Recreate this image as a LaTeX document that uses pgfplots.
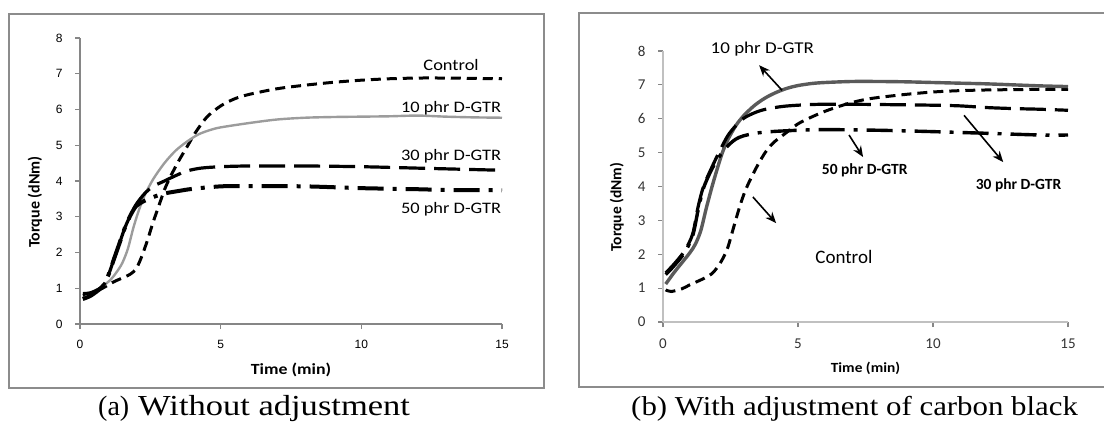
\documentclass[border=0pt]{standalone}
\usepackage{pgfplots}
\pgfplotsset{compat=1.18}
\usetikzlibrary{arrows.meta}
\usepackage{fontspec}
\setmainfont{Carlito}
\newfontfamily\tickfont{Liberation Sans}
\newfontfamily\capfont{Liberation Serif}

\definecolor{framegray}{HTML}{8C8C8C}
\definecolor{axdark}{HTML}{868686}
\definecolor{axlight}{HTML}{C0C0C0}
\definecolor{gtra}{HTML}{9C9C9C}
\definecolor{gtrb}{HTML}{5A5A5A}

\tikzset{ann/.style={anchor=base, xscale=1.15, transform shape}}
\pgfplotsset{
  excel/.style={
    scale only axis,
    xmin=0, xmax=15, ymin=0, ymax=8,
    xtick={0,5,10,15}, ytick={0,1,...,8},
    axis lines*=left,
    tick align=outside,
    major tick length=5pt,
    clip=false,
    /pgf/number format/assume math mode=true,
  },
  ctrl/.style={black, line width=3pt, dash pattern=on 10pt off 6pt, smooth},
  p30/.style={black, line width=3.2pt, dash pattern=on 26pt off 9pt, smooth},
  p50/.style={black, line width=4pt, dash pattern=on 26pt off 9pt on 4pt off 9pt, smooth},
}

\begin{document}
\begin{tikzpicture}
\useasboundingbox (0,0) rectangle (1104pt,424pt);
\clip (0,0) rectangle (1104pt,424pt);

% frames
\draw[framegray, line width=1.5pt] (9pt,36pt) rectangle (544pt,410pt);
\draw[framegray, line width=1.5pt] (579pt,37pt) rectangle (1112pt,411pt);

% captions
\node[anchor=base west, inner sep=0pt] at (98pt,9pt)
  {\capfont\fontsize{28}{30}\selectfont (a)};
\node[anchor=base west, xscale=1.19, transform shape, inner sep=0pt] at (138pt,9pt)
  {\capfont\fontsize{29}{31}\selectfont Without adjustment};
\node[anchor=base west, xscale=1.13, transform shape, inner sep=0pt] at (631pt,9pt)
  {\capfont\fontsize{27.3}{30}\selectfont (b) With adjustment of carbon black};

% ---------------- (a) without adjustment
\begin{axis}[excel,
  at={(80pt,100pt)}, anchor=south west,
  width=422pt, height=286pt,
  axis line style={axdark, line width=1.5pt},
  tick style={axdark, line width=1.2pt},
  tick label style={font=\tickfont\fontsize{12}{14}\selectfont},
  xticklabel style={yshift=-8pt},
  yticklabel style={xshift=-9pt},
  xlabel={\bfseries Time (min)},
  ylabel={\bfseries Torque (dNm)},
  every axis x label/.style={at={(axis description cs:0.5,-0.161)}, anchor=center,
    font=\fontsize{15.5}{17}\selectfont, xscale=1.15, transform shape},
  every axis y label/.style={at={(axis description cs:-0.107,0.427)}, rotate=90, anchor=center,
    font=\fontsize{16}{18}\selectfont},
]
% Control
\addplot[ctrl] coordinates {
(0.1,0.80) (0.4,0.85) (0.8,1.00) (1.2,1.18) (1.6,1.32) (1.8,1.40) (2.0,1.55)
(2.2,1.90) (2.4,2.35) (2.6,2.85) (2.8,3.30) (3.0,3.75) (3.2,4.10) (3.5,4.55)
(3.8,4.95) (4.1,5.35) (4.5,5.78) (5.0,6.10) (5.5,6.30) (6.0,6.42) (7.0,6.58)
(8.0,6.68) (9.0,6.76) (10,6.82) (11,6.86) (12,6.88) (13,6.88) (14,6.87) (15,6.86)
};
% 10 phr D-GTR
\addplot[gtra, line width=2.4pt, smooth] coordinates {
(0.1,0.72) (0.4,0.85) (0.8,1.05) (1.1,1.25) (1.3,1.45) (1.5,1.70) (1.7,2.10)
(1.9,2.70) (2.1,3.20) (2.3,3.60) (2.6,4.05) (3.0,4.50) (3.4,4.85) (3.8,5.10)
(4.2,5.30) (4.6,5.42) (5.0,5.50) (6.0,5.62) (7.0,5.72) (8.0,5.77) (9.0,5.79)
(10,5.80) (11,5.81) (12,5.83) (13,5.80) (14,5.78) (15,5.77)
};
% 30 phr D-GTR
\addplot[p30] coordinates {
(0.1,0.85) (0.4,0.88) (0.8,1.05) (1.0,1.35) (1.2,1.80) (1.4,2.25) (1.6,2.70)
(1.8,3.05) (2.0,3.35) (2.3,3.65) (2.6,3.85) (3.0,4.00) (3.4,4.15) (3.8,4.28)
(4.3,4.36) (5.0,4.40) (6.0,4.42) (8.0,4.42) (10,4.40) (12,4.36) (13,4.34) (15,4.30)
};
% 50 phr D-GTR
\addplot[p50] coordinates {
(0.1,0.70) (0.4,0.80) (0.8,1.05) (1.0,1.35) (1.2,1.80) (1.4,2.25) (1.6,2.70)
(1.8,3.05) (2.0,3.30) (2.3,3.45) (2.6,3.55) (3.0,3.65) (3.5,3.72) (4.0,3.78)
(5.0,3.85) (6.0,3.86) (8.0,3.85) (10,3.80) (12,3.77) (13,3.75) (15,3.74)
};
\node[ann, font=\fontsize{16}{18}\selectfont] at (axis cs:13.19,7.10) {Control};
\node[ann, font=\fontsize{16}{18}\selectfont] at (axis cs:13.19,5.93) {10 phr D-GTR};
\node[ann, font=\fontsize{16}{18}\selectfont] at (axis cs:13.19,4.56) {30 phr D-GTR};
\node[ann, font=\fontsize{16}{18}\selectfont] at (axis cs:13.19,3.10) {50 phr D-GTR};
\end{axis}

% ---------------- (b) with adjustment of carbon black
\begin{axis}[excel,
  at={(663pt,102pt)}, anchor=south west,
  width=405pt, height=271pt,
  axis line style={axlight, line width=1.5pt},
  tick style={axdark, line width=1.2pt},
  tick label style={font=\fontsize{15}{17}\selectfont, text=black!80},
  xticklabel style={yshift=-8pt},
  yticklabel style={xshift=-9pt},
  xlabel={\bfseries Time (min)},
  ylabel={\bfseries Torque (dNm)},
  every axis x label/.style={at={(axis description cs:0.5,-0.17)}, anchor=center,
    font=\fontsize{14}{16}\selectfont, xscale=1.1, transform shape},
  every axis y label/.style={at={(axis description cs:-0.114,0.424)}, rotate=90, anchor=center,
    font=\fontsize{15.5}{17}\selectfont},
]
% Control
\addplot[ctrl] coordinates {
(0.1,0.95) (0.3,0.90) (0.7,0.98) (1.0,1.10) (1.5,1.28) (1.8,1.42) (2.0,1.60)
(2.2,1.85) (2.4,2.20) (2.6,2.75) (2.8,3.30) (3.0,3.78) (3.2,4.15) (3.5,4.62)
(3.8,5.02) (4.1,5.30) (4.5,5.55) (5.0,5.85) (5.5,6.05) (6.0,6.22) (6.5,6.36)
(7.0,6.48) (7.5,6.57) (8.0,6.63) (9.0,6.72) (10,6.79) (11,6.83) (12,6.85)
(13,6.86) (14,6.87) (15,6.87)
};
% 10 phr D-GTR
\addplot[gtrb, line width=3.4pt, smooth] coordinates {
(0.1,1.12) (0.4,1.45) (0.7,1.75) (1.0,2.05) (1.2,2.30) (1.4,2.70) (1.6,3.35)
(1.8,3.95) (2.0,4.50) (2.2,5.00) (2.4,5.38) (2.7,5.80) (3.0,6.10) (3.4,6.40)
(3.8,6.62) (4.2,6.78) (4.6,6.90) (5.0,6.98) (5.5,7.04) (6.0,7.07) (7.0,7.10)
(8.0,7.10) (9.0,7.09) (10,7.07) (11,7.05) (12,7.03) (13,7.00) (14,6.97) (15,6.95)
};
% 30 phr D-GTR
\addplot[p30] coordinates {
(0.1,1.45) (0.4,1.70) (0.8,2.10) (1.1,2.60) (1.3,3.40) (1.5,4.00) (1.8,4.55)
(2.1,5.05) (2.4,5.50) (2.7,5.80) (3.0,6.02) (3.4,6.18) (3.8,6.28) (4.5,6.37)
(5.5,6.42) (6.5,6.43) (8.0,6.42) (10,6.40) (11,6.38) (12,6.33) (13,6.30)
(14,6.28) (15,6.25)
};
% 50 phr D-GTR
\addplot[p50, line width=3.4pt] coordinates {
(0.1,1.40) (0.4,1.65) (0.8,2.05) (1.1,2.55) (1.3,3.30) (1.5,3.95) (1.8,4.50)
(2.1,4.90) (2.4,5.20) (2.7,5.40) (3.0,5.50) (3.5,5.58) (4.0,5.62) (5.0,5.66)
(6.0,5.68) (8.0,5.66) (10,5.62) (12,5.57) (14,5.52) (15,5.52)
};
% annotations
\draw[-{Stealth[length=11pt,width=9pt]}, line width=1.6pt] (axis cs:4.41,6.84) -- (axis cs:3.56,7.58);
\draw[-{Stealth[length=11pt,width=9pt]}, line width=1.6pt] (axis cs:6.89,5.52) -- (axis cs:7.41,4.87);
\draw[-{Stealth[length=11pt,width=9pt]}, line width=1.6pt] (axis cs:11.15,6.10) -- (axis cs:12.60,4.72);
\draw[-{Stealth[length=11pt,width=9pt]}, line width=1.6pt] (axis cs:3.33,3.69) -- (axis cs:4.19,2.92);
\node[ann, font=\fontsize{16.5}{19}\selectfont] at (axis cs:3.68,7.94) {10 phr D-GTR};
\node[ann, font=\fontsize{15.5}{17}\selectfont\bfseries, xscale=1.0/1.15] at (axis cs:7.47,4.34) {50 phr D-GTR};
\node[ann, font=\fontsize{15.5}{17}\selectfont\bfseries, xscale=1.0/1.15] at (axis cs:13.17,3.92) {30 phr D-GTR};
\node[ann, font=\fontsize{19}{21}\selectfont, xscale=1/1.15] at (axis cs:6.70,1.74) {Control};
\end{axis}
\end{tikzpicture}
\end{document}
